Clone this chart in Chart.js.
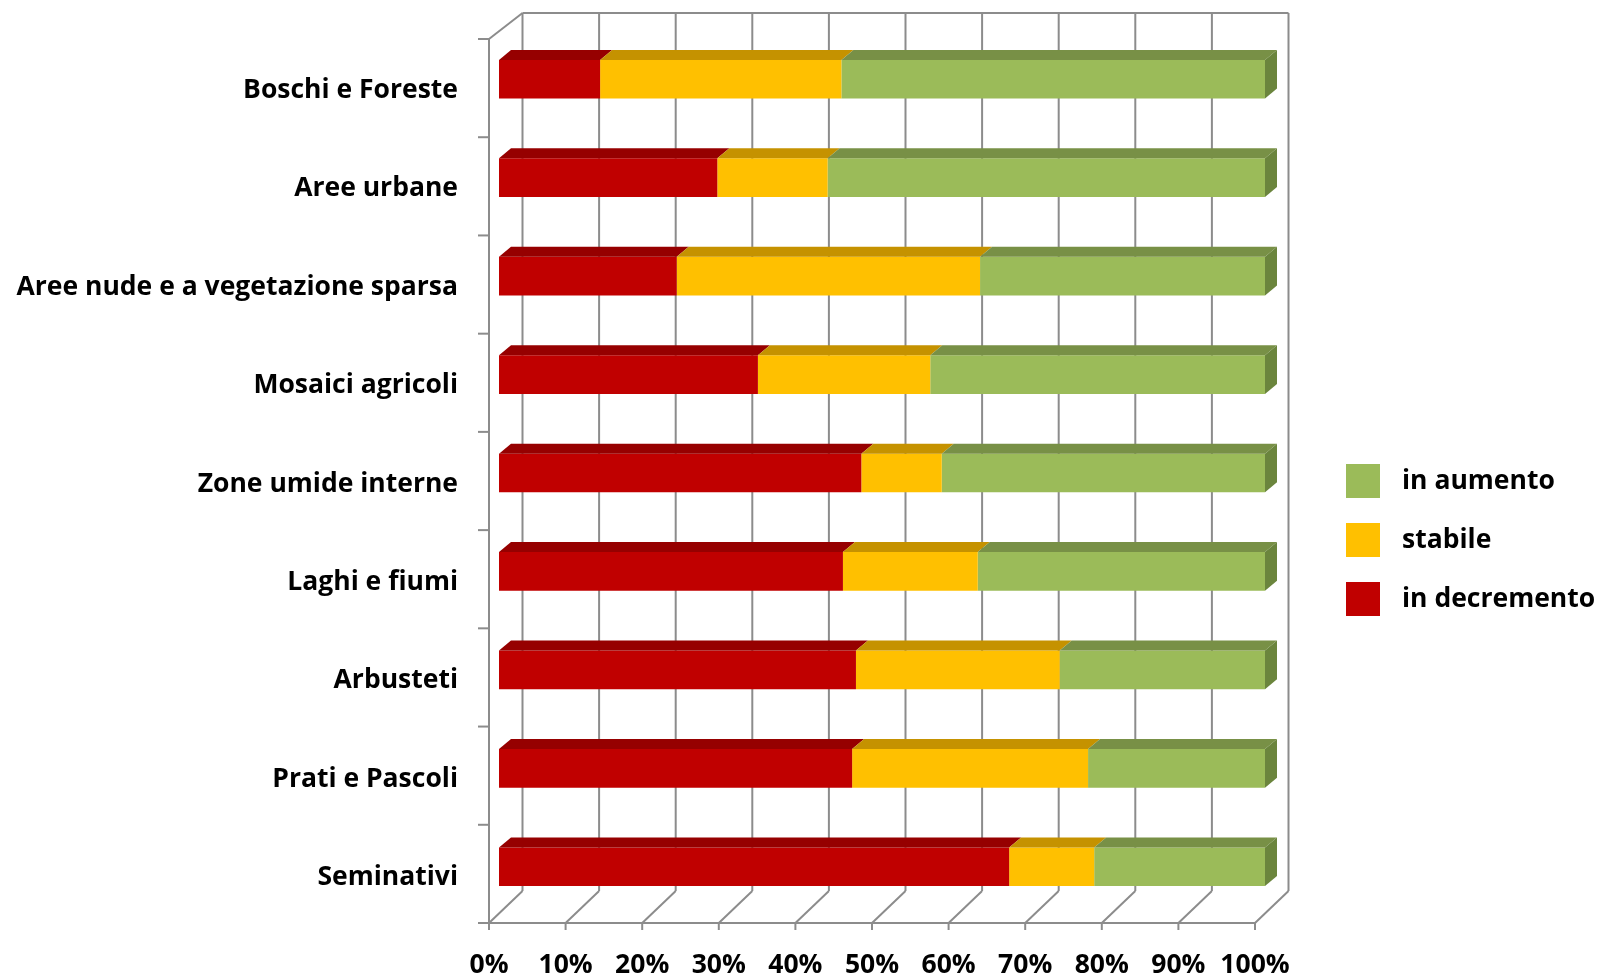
<!DOCTYPE html>
<html>
<head>
<meta charset="utf-8">
<script src="https://cdn.jsdelivr.net/npm/chart.js@4/dist/chart.umd.min.js"></script>
<style>
  html, body { margin: 0; padding: 0; background: #fff; }
  #box { width: 1599px; height: 977px; }
</style>
</head>
<body>
<div id="box"><canvas id="grafico"></canvas></div>
<script>
// Categorie (dall'alto verso il basso)
const categorie = ['Boschi e Foreste', 'Aree urbane', 'Aree nude e a vegetazione sparsa', 'Mosaici agricoli',
  'Zone umide interne', 'Laghi e fiumi', 'Arbusteti', 'Prati e Pascoli', 'Seminativi'];
// Quote percentuali
const inDecremento = [13.2, 28.5, 23.2, 33.8, 47.3, 44.9, 46.6, 46.1, 66.6];
const stabile      = [31.5, 14.4, 39.6, 22.5, 10.5, 17.6, 26.6, 30.8, 11.1];
const inAumento    = [55.3, 57.1, 37.2, 43.7, 42.2, 37.5, 26.8, 23.1, 22.3];
const passoTick = 10;

const FONT = { family: 'Open Sans', size: 26.5, weight: 'bold' };
const GRIGIO = '#8c8c8c';

// offset prospettici (piano frontale / parete di fondo) rispetto al piano delle barre
const FRONTE = { dx: -10, top: 9, bottom: 7 };
const FONDO = { dx: 23.5, top: -17, bottom: -25 };
const PROF = { dx: 12, dy: 10 };

function linea(ctx, x1, y1, x2, y2) {
  ctx.beginPath();
  ctx.moveTo(x1, y1);
  ctx.lineTo(x2, y2);
  ctx.stroke();
}

const cornice3d = {
  id: 'cornice3d',
  beforeDatasetsDraw(chart) {
    const { ctx, chartArea: a, scales: { x } } = chart;
    const fTop = a.top + FRONTE.top, fBot = a.bottom + FRONTE.bottom;
    const bTop = a.top + FONDO.top, bBot = a.bottom + FONDO.bottom;
    const x0 = x.getPixelForValue(x.min), x1 = x.getPixelForValue(x.max);
    ctx.save();
    ctx.strokeStyle = GRIGIO;
    ctx.lineWidth = 2;
    x.ticks.forEach(t => {
      const px = x.getPixelForValue(t.value);
      linea(ctx, px + FONDO.dx, bTop, px + FONDO.dx, bBot);          // parete di fondo
      linea(ctx, px + FRONTE.dx, fBot, px + FONDO.dx, bBot);         // pavimento
      linea(ctx, px + FRONTE.dx, fBot, px + FRONTE.dx, fBot + 7);    // tacca
    });
    linea(ctx, x0 + FONDO.dx, bTop, x1 + FONDO.dx, bTop);
    linea(ctx, x0 + FRONTE.dx, fBot, x1 + FRONTE.dx, fBot);
    linea(ctx, x0 + FRONTE.dx, fTop, x0 + FRONTE.dx, fBot);
    linea(ctx, x0 + FRONTE.dx, fTop, x0 + FONDO.dx, bTop);
    const n = chart.data.labels.length;
    for (let i = 0; i <= n; i++) {
      const y = fTop + i * (fBot - fTop) / n;
      linea(ctx, x0 + FRONTE.dx - 11, y, x0 + FRONTE.dx, y);
    }
    ctx.restore();
  },
  afterDatasetsDraw(chart) {
    const { ctx } = chart;
    const ultimo = chart.data.datasets.length - 1;
    ctx.save();
    chart.data.datasets.forEach((ds, i) => {
      chart.getDatasetMeta(i).data.forEach(el => {
        const p = el.getProps(['x', 'y', 'base', 'height'], true);
        const y0 = p.y - p.height / 2;
        ctx.fillStyle = ds.coloreSopra;
        ctx.beginPath();
        ctx.moveTo(p.base, y0);
        ctx.lineTo(p.x, y0);
        ctx.lineTo(p.x + PROF.dx, y0 - PROF.dy);
        ctx.lineTo(p.base + PROF.dx, y0 - PROF.dy);
        ctx.closePath();
        ctx.fill();
        if (i === ultimo) {
          ctx.fillStyle = ds.coloreLato;
          ctx.beginPath();
          ctx.moveTo(p.x, y0);
          ctx.lineTo(p.x + PROF.dx, y0 - PROF.dy);
          ctx.lineTo(p.x + PROF.dx, y0 + p.height - PROF.dy);
          ctx.lineTo(p.x, y0 + p.height);
          ctx.closePath();
          ctx.fill();
        }
      });
    });
    ctx.restore();
  },
  afterDraw(chart) {
    // legenda (ordine inverso, come nell'originale)
    const { ctx } = chart;
    const voci = chart.data.datasets.slice().reverse();
    ctx.save();
    ctx.font = `${FONT.weight} ${FONT.size}px ${FONT.family}`;
    ctx.textBaseline = 'middle';
    voci.forEach((ds, i) => {
      const yc = 481 + i * 59;
      ctx.fillStyle = ds.backgroundColor;
      ctx.fillRect(1346, yc - 17, 34, 34);
      ctx.fillStyle = '#000';
      ctx.fillText(ds.label, 1402, yc);
    });
    ctx.restore();
  }
};

new Chart(document.getElementById('grafico'), {
  type: 'bar',
  data: {
    labels: categorie,
    datasets: [
      { label: 'in decremento', data: inDecremento, backgroundColor: '#C00000', coloreSopra: '#960000', coloreLato: '#800000' },
      { label: 'stabile', data: stabile, backgroundColor: '#FFC000', coloreSopra: '#C59200', coloreLato: '#B08000' },
      { label: 'in aumento', data: inAumento, backgroundColor: '#9BBB59', coloreSopra: '#789046', coloreLato: '#6B853D' }
    ]
  },
  options: {
    indexAxis: 'y',
    responsive: true,
    maintainAspectRatio: false,
    animation: false,
    layout: { padding: { top: 30, right: 334, left: 0, bottom: 0 } },
    datasets: { bar: { categoryPercentage: 1, barPercentage: 0.393, borderWidth: 0 } },
    plugins: { legend: { display: false }, tooltip: { enabled: false } },
    scales: {
      x: {
        stacked: true,
        min: 0,
        max: 100,
        grid: { display: false, drawTicks: false },
        border: { display: false },
        ticks: { stepSize: passoTick, callback: v => v + '%', color: '#000', font: FONT, padding: 34, labelOffset: -10, maxRotation: 0 },
        afterFit: s => { s.height = 61; s.paddingLeft = 0; s.paddingRight = 0; }
      },
      y: {
        stacked: true,
        grid: { display: false, drawTicks: false },
        border: { display: false },
        ticks: { color: '#000', font: FONT, padding: 41, labelOffset: 11 },
        afterFit: s => { s.width = 499; s.paddingTop = 0; s.paddingBottom = 0; }
      }
    }
  },
  plugins: [cornice3d]
});
</script>
</body>
</html>
